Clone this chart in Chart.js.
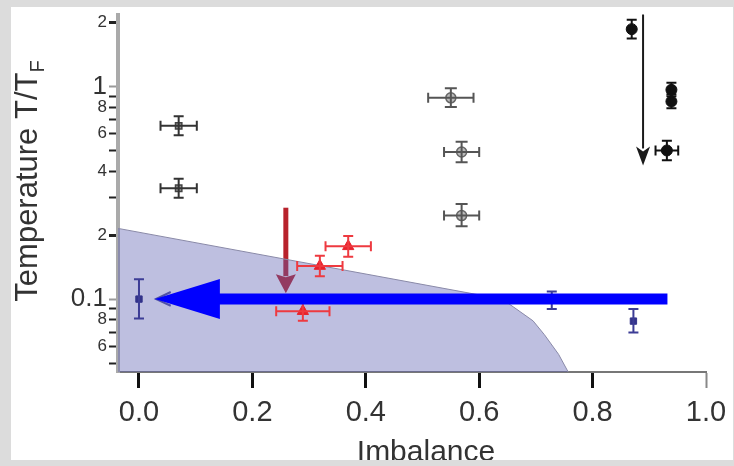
<!DOCTYPE html>
<html>
<head>
<meta charset="utf-8">
<script src="https://cdn.jsdelivr.net/npm/chart.js@4"></script>
<style>
html, body { margin: 0; padding: 0; background: #dcdcdc; }
#wrap { position: absolute; left: 11px; top: 7px; width: 722px; height: 453px; background: #fff; }
</style>
</head>
<body>
<div id="wrap"><canvas id="phase"></canvas></div>
<script>
//axis ranges + ticks
const xRange = [-0.037, 1.0];
const yRange = [0.0454, 2.18];
const xTickValues = [0, 0.2, 0.4, 0.6, 0.8, 1.0];
const xTickLabels = ["0.0", "0.2", "0.4", "0.6", "0.8", "1.0"];
const yTickValues = [0.05, 0.06, 0.07, 0.08, 0.09, 0.1, 0.2, 0.3, 0.4, 0.5, 0.6, 0.7, 0.8, 0.9, 1, 2];
const yTickLabels = ["", "6", "", "8", "", "0.1", "2", "", "4", "", "6", "", "8", "", "1", "2"];

//shaded region boundary
const regionX = [-0.037, 0.64, 0.66, 0.695, 0.715, 0.74, 0.757];
const regionY = [0.215, 0.100, 0.092, 0.079, 0.068, 0.055, 0.0454];

//open squares
const sqX = [0.07, 0.07];
const sqY = [0.653, 0.332];
const sqXErr = [0.032, 0.032];
const sqYLo = [0.59, 0.30];
const sqYHi = [0.725, 0.368];

//gray circles
const grayX = [0.55, 0.569, 0.569];
const grayY = [0.884, 0.492, 0.247];
const grayXErr = [0.04, 0.031, 0.031];
const grayYLo = [0.80, 0.44, 0.22];
const grayYHi = [0.98, 0.55, 0.28];

//black circles
const blackX = [0.869, 0.939, 0.939, 0.931];
const blackY = [1.86, 0.965, 0.85, 0.50];
const blackXErr = [0, 0, 0, 0.02];
const blackYLo = [1.68, 0.90, 0.79, 0.45];
const blackYHi = [2.06, 1.04, 0.92, 0.555];

//red triangles
const redX = [0.369, 0.319, 0.289];
const redY = [0.177, 0.143, 0.0877];
const redXErr = [0.04, 0.04, 0.047];
const redYLo = [0.158, 0.128, 0.079];
const redYHi = [0.198, 0.16, 0.097];

//blue squares
const blueX = [0.0, 0.728, 0.872];
const blueY = [0.100, 0.0995, 0.0788];
const blueXErr = [0, 0, 0];
const blueYLo = [0.081, 0.0898, 0.0697];
const blueYHi = [0.124, 0.1087, 0.0898];

//arrows
const blackArrowX = [0.889, 0.889];
const blackArrowY = [2.18, 0.425];
const redArrowX = [0.259, 0.259];
const redArrowY = [0.269, 0.1066];
const blueArrowX = [0.932, 0.028];
const blueArrowY = [0.1, 0.1];
const chevronX = [0.056, 0.03, 0.056];
const chevronY = [0.108, 0.1, 0.093];

const FONT = "'Liberation Sans', Arial, Helvetica, sans-serif";

function pts(xs, ys) {
  return xs.map((x, i) => ({ x: x, y: ys[i] }));
}

const errorSets = [
  { xs: sqX, ys: sqY, xErr: sqXErr, lo: sqYLo, hi: sqYHi, color: "#333", cap: 5 },
  { xs: grayX, ys: grayY, xErr: grayXErr, lo: grayYLo, hi: grayYHi, color: "#555", cap: 6 },
  { xs: blackX, ys: blackY, xErr: blackXErr, lo: blackYLo, hi: blackYHi, color: "#111", cap: 5 },
  { xs: redX, ys: redY, xErr: redXErr, lo: redYLo, hi: redYHi, color: "#ee3a40", cap: 5 },
  { xs: blueX, ys: blueY, xErr: blueXErr, lo: blueYLo, hi: blueYHi, color: "#3d3d96", cap: 5 }
];

function arrow(ctx, x1, y1, x2, y2, color, shaft, headLen, headHalf, notch) {
  const a = Math.atan2(y2 - y1, x2 - x1);
  const c = Math.cos(a), s = Math.sin(a);
  const bx = x2 - headLen * c, by = y2 - headLen * s;
  ctx.save();
  ctx.strokeStyle = color;
  ctx.fillStyle = color;
  ctx.lineWidth = shaft;
  ctx.beginPath();
  ctx.moveTo(x1, y1);
  ctx.lineTo(bx + c * 2, by + s * 2);
  ctx.stroke();
  ctx.beginPath();
  ctx.moveTo(x2, y2);
  ctx.lineTo(bx - headHalf * s, by + headHalf * c);
  ctx.lineTo(bx + notch * c, by + notch * s);
  ctx.lineTo(bx + headHalf * s, by - headHalf * c);
  ctx.closePath();
  ctx.fill();
  ctx.restore();
}

const overlay = {
  id: "overlay",
  beforeDatasetsDraw(chart) {
    const { ctx, scales: { x, y } } = chart;
    //red arrow sits under the shaded region
    arrow(ctx, x.getPixelForValue(redArrowX[0]), y.getPixelForValue(redArrowY[0]),
      x.getPixelForValue(redArrowX[1]), y.getPixelForValue(redArrowY[1]),
      "#b8222c", 5, 19, 10, 3);
    //small chevron near the origin point
    ctx.save();
    ctx.strokeStyle = "#4a4aa0";
    ctx.lineWidth = 2;
    ctx.beginPath();
    chevronX.forEach((v, i) => {
      const px = x.getPixelForValue(v), py = y.getPixelForValue(chevronY[i]);
      if (i === 0) ctx.moveTo(px, py); else ctx.lineTo(px, py);
    });
    ctx.stroke();
    ctx.restore();
  },
  afterDatasetsDraw(chart) {
    const { ctx, scales: { x, y } } = chart;
    //error bars
    errorSets.forEach(set => {
      ctx.save();
      ctx.strokeStyle = set.color;
      ctx.lineWidth = 2;
      set.xs.forEach((xv, i) => {
        const cx = x.getPixelForValue(xv), cy = y.getPixelForValue(set.ys[i]);
        const top = y.getPixelForValue(set.hi[i]), bot = y.getPixelForValue(set.lo[i]);
        ctx.beginPath();
        ctx.moveTo(cx, top); ctx.lineTo(cx, bot);
        ctx.moveTo(cx - set.cap, top); ctx.lineTo(cx + set.cap, top);
        ctx.moveTo(cx - set.cap, bot); ctx.lineTo(cx + set.cap, bot);
        if (set.xErr[i] > 0) {
          const l = x.getPixelForValue(xv - set.xErr[i]), r = x.getPixelForValue(xv + set.xErr[i]);
          ctx.moveTo(l, cy); ctx.lineTo(r, cy);
          ctx.moveTo(l, cy - 5); ctx.lineTo(l, cy + 5);
          ctx.moveTo(r, cy - 5); ctx.lineTo(r, cy + 5);
        }
        ctx.stroke();
      });
      ctx.restore();
    });
    //black arrow
    arrow(ctx, x.getPixelForValue(blackArrowX[0]), y.getPixelForValue(blackArrowY[0]),
      x.getPixelForValue(blackArrowX[1]), y.getPixelForValue(blackArrowY[1]),
      "#1a1a1a", 2, 19, 7, 5);
    //big blue arrow
    arrow(ctx, x.getPixelForValue(blueArrowX[0]), y.getPixelForValue(blueArrowY[0]),
      x.getPixelForValue(blueArrowX[1]), y.getPixelForValue(blueArrowY[1]),
      "#0000ff", 11, 65, 20, 0);
  },
  afterDraw(chart) {
    const ctx = chart.ctx;
    ctx.save();
    ctx.fillStyle = "#333";
    //y title with subscript
    ctx.translate(26, 174);
    ctx.rotate(-Math.PI / 2);
    ctx.font = "31px " + FONT;
    const main = "Temperature T/T";
    const w = ctx.measureText(main).width;
    ctx.font = "20px " + FONT;
    const ws = ctx.measureText("F").width;
    const start = -(w + ws) / 2;
    ctx.textBaseline = "alphabetic";
    ctx.font = "31px " + FONT;
    ctx.fillText(main, start, 0);
    ctx.font = "20px " + FONT;
    ctx.fillText("F", start + w, 7);
    ctx.restore();
    //x title
    ctx.save();
    ctx.fillStyle = "#333";
    ctx.font = "30px " + FONT;
    ctx.textAlign = "center";
    ctx.textBaseline = "alphabetic";
    ctx.fillText("Imbalance", 415, 454);
    ctx.restore();
  }
};

const bigTick = v => v === 1 || v === 0.1;

new Chart(document.getElementById("phase"), {
  type: "scatter",
  data: {
    datasets: [
      {
        label: "region",
        data: pts(regionX, regionY),
        showLine: true,
        fill: "start",
        backgroundColor: "rgba(92,95,178,0.4)",
        borderColor: "#8a8aa8",
        borderWidth: 1,
        pointRadius: 0,
        tension: 0,
        order: 10
      },
      {
        label: "squares",
        data: pts(sqX, sqY),
        pointStyle: "rect",
        pointRadius: 4.5,
        backgroundColor: "#999",
        borderColor: "#444",
        borderWidth: 1.5
      },
      {
        label: "gray circles",
        data: pts(grayX, grayY),
        pointStyle: "circle",
        pointRadius: 5,
        backgroundColor: "#bbb",
        borderColor: "#666",
        borderWidth: 1.5
      },
      {
        label: "black circles",
        data: pts(blackX, blackY),
        pointStyle: "circle",
        pointRadius: 5.5,
        backgroundColor: "#111",
        borderColor: "#111",
        borderWidth: 1
      },
      {
        label: "triangles",
        data: pts(redX, redY),
        pointStyle: "triangle",
        pointRadius: 6.5,
        backgroundColor: "#e8222c",
        borderColor: "#e8222c",
        borderWidth: 1
      },
      {
        label: "blue",
        data: pts(blueX, blueY),
        pointStyle: "rect",
        pointRadius: 4.5,
        backgroundColor: "#33338a",
        borderColor: "#33338a",
        borderWidth: 1
      }
    ]
  },
  options: {
    responsive: true,
    maintainAspectRatio: false,
    animation: false,
    layout: { padding: { top: 1, right: 27, left: 0, bottom: 0 } },
    plugins: {
      legend: { display: false },
      tooltip: { enabled: false }
    },
    scales: {
      x: {
        type: "linear",
        min: xRange[0],
        max: xRange[1],
        afterBuildTicks: s => { s.ticks = xTickValues.map(v => ({ value: v })); },
        afterFit: s => { s.height = 88; s.paddingLeft = 0; s.paddingRight = 0; },
        ticks: {
          autoSkip: false,
          maxRotation: 0,
          padding: 8,
          color: "#333",
          font: { family: FONT, size: 29 },
          callback: (v, i) => xTickLabels[i]
        },
        grid: {
          drawOnChartArea: false,
          tickLength: 16,
          tickColor: c => (c.tick && c.tick.value === 1 ? "#888" : "#111"),
          tickWidth: c => (c.tick && c.tick.value === 1 ? 2 : 3)
        },
        border: { color: "#777", width: 2 }
      },
      y: {
        type: "logarithmic",
        min: yRange[0],
        max: yRange[1],
        afterBuildTicks: s => { s.ticks = yTickValues.map(v => ({ value: v })); },
        afterFit: s => { s.width = 107; s.paddingTop = 0; s.paddingBottom = 0; },
        ticks: {
          autoSkip: false,
          padding: 2,
          color: "#333",
          font: c => ({ family: FONT, size: c.tick && bigTick(c.tick.value) ? 26 : 17 }),
          callback: (v, i) => yTickLabels[i]
        },
        grid: {
          drawOnChartArea: false,
          tickLength: 9,
          tickColor: c => (c.tick && bigTick(c.tick.value) ? "#999" : "#222"),
          tickWidth: c => (c.tick && (c.tick.value === 2 || c.tick.value === 0.2) ? 3 : 2)
        },
        border: { color: "#aaa", width: 4 }
      }
    }
  },
  plugins: [overlay]
});
</script>
</body>
</html>
